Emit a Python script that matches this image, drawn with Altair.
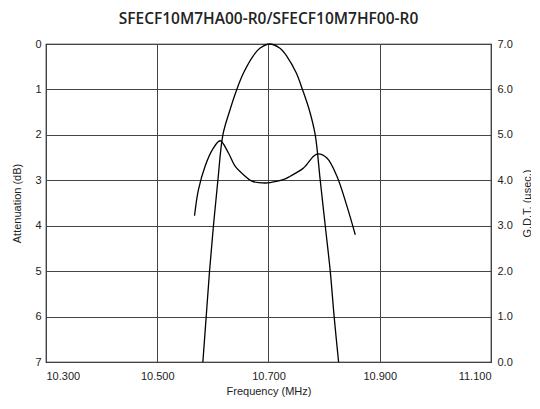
import altair as alt
import pandas as pd

# Attenuation curve (dB) vs frequency (MHz)
att_freq = [10.582, 10.588, 10.594, 10.601, 10.609, 10.618, 10.630, 10.643, 10.655,
            10.672, 10.685, 10.702, 10.720, 10.733, 10.750, 10.761, 10.774, 10.784,
            10.793, 10.802, 10.811, 10.818, 10.826]
att_db = [7.0, 6.0, 5.0, 4.0, 3.0, 2.0, 1.48, 1.0, 0.64,
          0.27, 0.09, 0.0, 0.09, 0.27, 0.64, 1.0, 1.48, 2.0,
          3.0, 4.0, 5.0, 6.0, 7.0]

# Group delay time (usec) vs frequency (MHz)
gdt_freq = [10.567, 10.574, 10.586, 10.599, 10.613, 10.628, 10.640, 10.658, 10.670,
            10.694, 10.703, 10.730, 10.739, 10.763, 10.781, 10.789, 10.805, 10.823,
            10.841, 10.856]
gdt_us = [3.22, 3.79, 4.31, 4.67, 4.87, 4.60, 4.31, 4.09, 3.98,
          3.94, 3.95, 4.03, 4.09, 4.27, 4.53, 4.58, 4.49, 4.09,
          3.43, 2.80]

x_ticks = [10.3, 10.5, 10.7, 10.9, 11.1]
y_ticks = [0, 1, 2, 3, 4, 5, 6, 7]

att_df = pd.DataFrame({"f": att_freq, "v": att_db})
gdt_df = pd.DataFrame({"f": gdt_freq, "v": gdt_us})

FONT = "Liberation Sans, Arial, sans-serif"

x_enc = alt.X("f:Q", title="Frequency (MHz)",
              scale=alt.Scale(domain=[10.3, 11.1], nice=False, zero=False),
              axis=alt.Axis(values=x_ticks, format=".3f", ticks=False, labelPadding=8,
                            grid=True, gridColor="#444", gridOpacity=1, gridWidth=1,
                            domain=False, titlePadding=4))

att = alt.Chart(att_df).mark_line(color="black", strokeWidth=1.3,
                                  interpolate="catmull-rom").encode(
    x=x_enc,
    y=alt.Y("v:Q", title="Attenuation (dB)",
            scale=alt.Scale(domain=[0, 7], reverse=True, nice=False),
            axis=alt.Axis(values=y_ticks, format="d", ticks=False, labelPadding=5,
                          grid=True, gridColor="#444", gridOpacity=1, gridWidth=1,
                          domain=False, titlePadding=12)),
)

gdt = alt.Chart(gdt_df).mark_line(color="black", strokeWidth=1.3,
                                  interpolate="catmull-rom").encode(
    x=x_enc,
    y=alt.Y("v:Q", title="G.D.T. (µsec.)",
            scale=alt.Scale(domain=[0, 7], nice=False),
            axis=alt.Axis(orient="right", values=y_ticks, format=".1f", ticks=False,
                          labelPadding=6, grid=False, domain=False,
                          titleAngle=270, titleX=36, titleY=159,
                          titleAlign="center", titleBaseline="middle")),
)

chart = alt.layer(att, gdt).resolve_scale(y="independent").properties(
    width=445,
    height=318,
    autosize=alt.AutoSizeParams(type="none"),
    padding={"left": 38, "top": 36, "right": 40, "bottom": 40},
    title=alt.TitleParams("SFECF10M7HA00-R0/SFECF10M7HF00-R0", font="Open Sans",
                          fontSize=15.5, fontWeight=600, color="#222", offset=11),
).configure_view(stroke="black", strokeWidth=1.2).configure_axis(
    labelFont=FONT, labelFontSize=11, labelColor="#222",
    titleFont=FONT, titleFontSize=11, titleFontWeight="normal", titleColor="#222",
)

chart.save("out.html", embed_options={"renderer": "svg", "actions": False})
